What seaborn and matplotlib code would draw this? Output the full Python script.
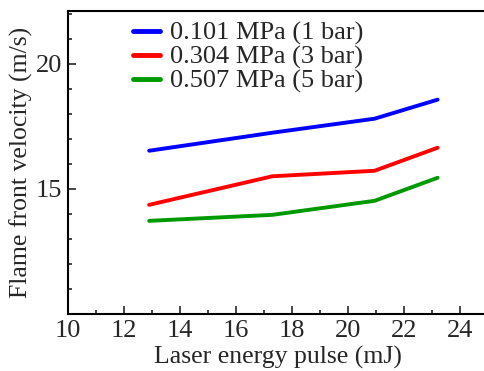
import matplotlib
matplotlib.use("Agg")
import matplotlib.pyplot as plt
import seaborn as sns
import pandas as pd
from matplotlib.ticker import MultipleLocator

energy = [12.9, 17.3, 20.95, 23.2]
v_1bar = [16.52, 17.24, 17.8, 18.56]
v_3bar = [14.36, 15.5, 15.72, 16.64]
v_5bar = [13.72, 13.96, 14.52, 15.44]
labels = ["0.101 MPa (1 bar)", "0.304 MPa (3 bar)", "0.507 MPa (5 bar)"]
colors = ["#0000ff", "#ff0000", "#009900"]

rows = []
for lab, vals in zip(labels, [v_1bar, v_3bar, v_5bar]):
    for e, v in zip(energy, vals):
        rows.append({"energy": e, "velocity": v, "series": lab})
df = pd.DataFrame(rows)

sns.set_style("ticks")
plt.rcParams["font.family"] = ["Liberation Serif", "DejaVu Serif"]

fig = plt.figure(figsize=(4.85, 3.71), dpi=100)
ax = fig.add_axes([68/485, 57/371, 420/485, 303/371])

sns.lineplot(data=df, x="energy", y="velocity", hue="series",
             palette=dict(zip(labels, colors)), linewidth=2.8, ax=ax,
             sort=False, estimator=None)

ax.set_xlim(10, 25)
ax.set_ylim(10, 22.1)
ax.set_xticks([10, 12, 14, 16, 18, 20, 22, 24])
ax.xaxis.set_minor_locator(MultipleLocator(1))
ax.set_yticks([15, 20])
ax.yaxis.set_minor_locator(MultipleLocator(1))
ax.tick_params(axis="both", which="major", direction="in", length=6, width=1.2,
               labelsize=19, pad=4)
ax.tick_params(axis="both", which="minor", direction="in", length=3, width=1.2)
ax.tick_params(top=False, right=False, which="both")
for s in ax.spines.values():
    s.set_linewidth(1.5)
    s.set_color("black")
ax.spines["right"].set_visible(False)

ax.set_xlabel("Laser energy pulse (mJ)", fontsize=18.5, labelpad=3)
ax.set_ylabel("Flame front velocity (m/s)", fontsize=18.5, labelpad=2)

leg = ax.legend(loc="upper left", bbox_to_anchor=(0.129, 1.0), frameon=False,
                fontsize=19, handlelength=1.05, handletextpad=0.35,
                labelspacing=0.0, borderaxespad=0)
for line in leg.get_lines():
    line.set_linewidth(3.5)

fig.savefig("out.png", dpi=100)
